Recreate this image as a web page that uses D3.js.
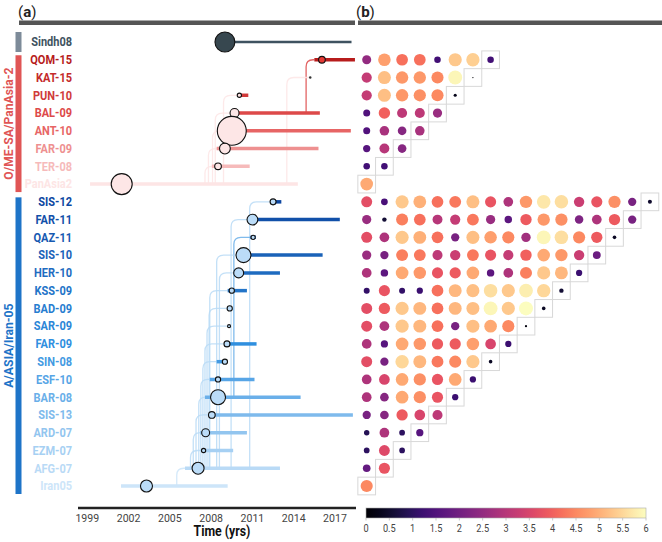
<!DOCTYPE html>
<html>
<head>
<meta charset="utf-8">
<script src="https://cdn.jsdelivr.net/npm/d3@7"></script>
<style>
  body { margin: 0; background: #fff; }
  text { font-family: Roboto, "Noto Sans", sans-serif; }
</style>
</head>
<body>
<div id="chart"></div>
<script>
// rows of the tree, top to bottom
var rowNames = ['Sindh08', 'QOM-15', 'KAT-15', 'PUN-10', 'BAL-09', 'ANT-10', 'FAR-09', 'TER-08', 'PanAsia2',
  'SIS-12', 'FAR-11', 'QAZ-11', 'SIS-10', 'HER-10', 'KSS-09', 'BAD-09', 'SAR-09', 'FAR-09', 'SIN-08',
  'ESF-10', 'BAR-08', 'SIS-13', 'ARD-07', 'EZM-07', 'AFG-07', 'Iran05'];
var groupNames = ['Sindh08', 'O/ME-SA/PanAsia-2', 'A/ASIA/Iran-05'];
var rowGroup = [0, 1, 1, 1, 1, 1, 1, 1, 1, 2, 2, 2, 2, 2, 2, 2, 2, 2, 2, 2, 2, 2, 2, 2, 2, 2];

// node date (yrs), node size (count), lineage span, parent row and branching date
var nodeYear = [2009.0, 2016.05, 2015.2, 2010.05, 2009.7, 2009.5, 2009.0, 2008.5, 2001.5,
  2012.5, 2011.0, 2011.05, 2010.35, 2010.0, 2009.5, 2009.35, 2009.3, 2009.15, 2009.0,
  2008.5, 2008.5, 2008.05, 2007.6, 2007.45, 2007.05, 2003.3];
var nodeCount = [44, 5, 0.7, 2, 9, 93, 13, 5, 49,
  4, 13, 2, 25, 11, 3, 3, 1, 4, 3, 3, 25, 5, 7, 2, 16, 16];
var spanStart = [2009.0, 2015.5, 2015.2, 2010.05, 2009.7, 2009.5, 2008.4, 2008.05, 1999.2,
  2012.3, 2011.0, 2010.85, 2010.35, 2010.0, 2009.2, 2009.35, 2009.3, 2009.15, 2008.4,
  2007.9, 2007.55, 2008.05, 2007.2, 2007.3, 2006.1, 2001.45];
var spanEnd = [2018.2, 2018.45, 2015.2, 2010.7, 2015.9, 2018.15, 2015.8, 2010.8, 2014.3,
  2013.1, 2017.35, 2011.25, 2016.1, 2013.0, 2010.6, 2009.35, 2009.3, 2011.3, 2009.0,
  2011.15, 2014.5, 2018.3, 2010.6, 2009.6, 2013.0, 2009.2];
var parentRow = [null, 4, 8, 8, 8, 8, 8, 8, null,
  24, 24, 20, 24, 24, 24, 24, 24, 24, 24, 24, 24, 24, 24, 24, 25, null];
var branchYear = [null, 2014.9, 2013.5, 2008.9, 2008.3, 2008.1, 2007.8, 2007.55, null,
  2010.8, 2009.45, 2009.65, 2008.4, 2008.6, 2007.9, 2007.85, 2007.7, 2007.55, 2007.4,
  2007.25, 2007.1, 2006.9, 2006.7, 2006.5, 2005.5, null];

// pairwise values, lower triangle (last value of each row is the diagonal)
var distRed = [
  [2.5, 4.8, 4.2, 4.2, 1.3, 5.3, 5.4, 1.3],
  [3.2, 5.2, 4.7, 4.7, 4.5, 5.9, 0.05],
  [3.2, 5.2, 4.7, 4.6, 4.5, 0.3],
  [1.5, 4.0, 3.1, 3.1, 2.6],
  [1.5, 2.8, 2.3, 2.8],
  [1.6, 3.0, 2.3],
  [1.3, 1.3],
  [4.9]
];
var distBlue = [
  [3.7, 1.4, 5.3, 5.0, 4.2, 4.3, 5.2, 3.8, 2.9, 4.7, 5.7, 5.6, 3.3, 3.8, 4.6, 2.1, 0.5],
  [2.6, 0.6, 4.4, 4.2, 3.0, 3.2, 4.3, 2.6, 1.7, 3.9, 4.7, 4.6, 2.2, 2.9, 3.9, 2.1],
  [3.7, 2.9, 5.3, 5.0, 4.2, 2.1, 5.2, 4.8, 4.5, 2.7, 5.9, 5.6, 4.5, 3.9, 0.4],
  [2.6, 2.1, 4.4, 4.3, 3.1, 3.3, 4.3, 3.8, 3.2, 4.0, 4.9, 4.7, 3.3, 1.9],
  [2.9, 1.7, 4.9, 4.7, 3.8, 3.9, 4.9, 1.7, 2.9, 4.4, 5.3, 5.1, 1.2],
  [1.1, 3.8, 1.1, 1.2, 4.2, 5.1, 5.2, 5.6, 5.3, 5.8, 5.5, 0.6],
  [3.7, 3.9, 5.3, 5.1, 4.2, 5.1, 5.2, 5.9, 5.3, 6.0, 0.4],
  [3.7, 2.9, 5.3, 5.1, 4.2, 2.1, 5.2, 4.9, 4.5, 0.15],
  [2.9, 1.6, 4.9, 4.7, 3.9, 3.9, 4.8, 3.5, 1.2],
  [3.7, 2.1, 5.5, 5.1, 4.3, 4.5, 5.3, 0.4],
  [2.9, 3.5, 4.9, 4.6, 3.8, 4.9, 1.2],
  [2.9, 2.3, 4.9, 4.6, 3.8, 1.2],
  [2.1, 2.3, 3.9, 3.5, 3.1],
  [0.9, 2.9, 1.0, 1.6],
  [1.0, 3.6, 1.0],
  [1.8, 3.8],
  [4.5]
];

var timeTicks = [1999, 2002, 2005, 2008, 2011, 2014, 2017];
var colorTicks = [0, 0.5, 1, 1.5, 2, 2.5, 3, 3.5, 4, 4.5, 5, 5.5, 6];

var svgWidth = 662, svgHeight = 542;
var svg = d3.select('#chart').append('svg')
  .attr('width', svgWidth)
  .attr('height', svgHeight);

var x = d3.scaleLinear().domain([1999, 2017]).range([87.3, 335]);
var y = d3.scalePoint().domain(d3.range(rowNames.length)).range([42, 486]);
var col = d3.scalePoint().domain(d3.range(17)).range([366.7, 649.9]);
var rScale = d3.scaleSqrt().domain([0, 100]).range([0, 15]);
var cellR = d3.scaleSqrt().domain([0, 6]).range([0, 7]);
var magma = d3.scaleSequential(d3.interpolateMagma).domain([0, 6]);
var cx = d3.scaleLinear().domain([0, 6]).range([366, 646]);

var redCol = d3.scaleLinear().domain([0, 0.5, 1]).range(['#b71c1c', '#e35050', '#fde5e5']);
var blueCol = d3.scaleLinear().domain([0, 0.5, 1]).range(['#0d47a1', '#2f8fdf', '#cde5f9']);
var groupColor = ['#7d8b99', '#e05555', '#1e74c8'];

function rowColor(i) {
  var g = rowGroup[i];
  if (g === 0) return '#3e5260';
  var members = d3.range(rowNames.length).filter(function(k) { return rowGroup[k] === g; });
  var t = members.indexOf(i) / (members.length - 1);
  return g === 1 ? redCol(t) : blueCol(t);
}
function nodeFill(i) {
  if (rowGroup[i] === 0) return '#37474f';
  if (rowNames[i] === 'QOM-15') return '#e53935';
  if (rowNames[i] === 'KAT-15') return '#333';
  return rowGroup[i] === 1 ? '#fde6e6' : '#bbdcf8';
}

// condensed text helper
function ctext(sel, px, py, s) {
  return sel.append('text').attr('transform', 'translate(' + px + ',' + py + ') scale(' + (s || 0.88) + ',1)');
}

// panel titles and heavy bars
var tA = ctext(svg, 18, 17, 1).style('font-size', '15px').attr('fill', '#222');
tA.append('tspan').text('(');
tA.append('tspan').style('font-weight', 'bold').text('a');
tA.append('tspan').text(')');
var tB = ctext(svg, 356, 17, 1).style('font-size', '15px').attr('fill', '#222');
tB.append('tspan').text('(');
tB.append('tspan').style('font-weight', 'bold').text('b');
tB.append('tspan').text(')');
svg.append('rect').attr('x', 19).attr('y', 20.5).attr('width', 336).attr('height', 4.5).attr('fill', '#555');
svg.append('rect').attr('x', 358).attr('y', 20.5).attr('width', 304).attr('height', 4.5).attr('fill', '#555');

// group bars + labels
groupNames.forEach(function(name, g) {
  var members = d3.range(rowNames.length).filter(function(k) { return rowGroup[k] === g; });
  var top = members.length === 1 ? y(members[0]) - 10 : y(members[0]) - 4.5;
  var bot = members.length === 1 ? y(members[0]) + 10 : y(members[members.length - 1]) + 8;
  svg.append('rect').attr('x', 15.5).attr('y', top).attr('width', 6).attr('height', bot - top)
    .attr('fill', groupColor[g]);
  if (members.length > 1) {
    svg.append('text')
      .attr('transform', 'translate(13,' + ((top + bot) / 2) + ') rotate(-90) scale(0.9,1)')
      .attr('text-anchor', 'middle')
      .style('font-size', '13.5px').style('font-weight', 'bold')
      .attr('fill', groupColor[g])
      .text(name);
  }
});

// row labels
rowNames.forEach(function(name, i) {
  ctext(svg, 72, y(i) + 4.3)
    .attr('text-anchor', 'end')
    .style('font-size', '12.5px').style('font-weight', 'bold')
    .attr('fill', rowColor(i))
    .text(name);
});

// branches
var tree = svg.append('g');
rowNames.forEach(function(name, i) {
  var p = parentRow[i];
  if (p === null) return;
  var bx = x(branchYear[i]);
  var y0 = y(p), y1 = y(i);
  var xs = x(spanStart[i]);
  var rr = Math.min(7, Math.abs(y0 - y1));
  var dir = y0 > y1 ? 1 : -1;
  var path = 'M' + bx + ',' + y0 + 'V' + (y1 + dir * rr) +
    'Q' + bx + ',' + y1 + ' ' + (bx + rr) + ',' + y1 + 'H' + Math.max(xs, bx + rr);
  tree.append('path').attr('d', path)
    .attr('fill', 'none')
    .attr('stroke', rowColor(p))
    .attr('stroke-opacity', 0.85)
    .attr('stroke-width', 1.3);
});

// lineage spans
tree.selectAll('line.span')
  .data(d3.range(rowNames.length))
  .enter()
  .append('line')
  .attr('class', 'span')
  .attr('x1', function(i) { return x(spanStart[i]); })
  .attr('x2', function(i) { return x(spanEnd[i]); })
  .attr('y1', function(i) { return y(i); })
  .attr('y2', function(i) { return y(i); })
  .attr('stroke', function(i) { return rowColor(i); })
  .attr('stroke-width', function(i) { return rowGroup[i] === 0 ? 2.5 : 3.5; });

// nodes
tree.selectAll('circle.node')
  .data(d3.range(rowNames.length))
  .enter()
  .append('circle')
  .attr('class', 'node')
  .attr('cx', function(i) { return x(nodeYear[i]); })
  .attr('cy', function(i) { return y(i); })
  .attr('r', function(i) { return rScale(nodeCount[i]); })
  .attr('fill', function(i) { return nodeFill(i); })
  .attr('stroke', function(i) { return rowNames[i] === 'KAT-15' ? 'none' : '#111'; })
  .attr('stroke-width', 1.1);

// time axis
var axisG = svg.append('g').attr('transform', 'translate(0,508)');
axisG.append('line').attr('x1', 78).attr('x2', 356).attr('stroke', '#222').attr('stroke-width', 2.5);
timeTicks.forEach(function(t) {
  ctext(axisG, x(t), 13.5, 0.92).attr('text-anchor', 'middle')
    .style('font-size', '11.5px').attr('fill', '#444').text(t);
});
ctext(svg, 222, 536, 0.88).attr('text-anchor', 'middle')
  .style('font-size', '14px').style('font-weight', 'bold').attr('fill', '#111')
  .text('Time (yrs)');

// matrix panel
var matrix = svg.append('g');
function drawBlock(data, firstRow) {
  data.forEach(function(vals, k) {
    var ri = firstRow + k;
    var di = vals.length - 1;
    matrix.append('rect')
      .attr('x', col(di) - 8.85).attr('y', y(ri) - 8.85)
      .attr('width', 17.7).attr('height', 17.7)
      .attr('fill', 'none').attr('stroke', '#d8d8d8').attr('stroke-width', 1);
    vals.forEach(function(v, j) {
      matrix.append('circle')
        .attr('cx', col(j)).attr('cy', y(ri))
        .attr('r', cellR(v))
        .attr('fill', magma(v));
    });
  });
}
drawBlock(distRed, rowNames.indexOf('QOM-15'));
drawBlock(distBlue, rowNames.indexOf('SIS-12'));

// colour bar
var defs = svg.append('defs');
var grad = defs.append('linearGradient').attr('id', 'magmaGrad');
d3.range(0, 1.0001, 0.05).forEach(function(t) {
  grad.append('stop').attr('offset', (t * 100) + '%').attr('stop-color', d3.interpolateMagma(t));
});
svg.append('rect').attr('x', cx(0)).attr('y', 508).attr('width', cx(6) - cx(0)).attr('height', 10)
  .attr('fill', 'url(#magmaGrad)').attr('stroke', '#aaa').attr('stroke-width', 0.6);
colorTicks.forEach(function(t) {
  svg.append('line').attr('x1', cx(t)).attr('x2', cx(t)).attr('y1', 518).attr('y2', 520.5)
    .attr('stroke', '#bbb').attr('stroke-width', 0.8);
  ctext(svg, cx(t), 532, 0.92).attr('text-anchor', 'middle')
    .style('font-size', '10px').attr('fill', '#444').text(t);
});
</script>
</body>
</html>
